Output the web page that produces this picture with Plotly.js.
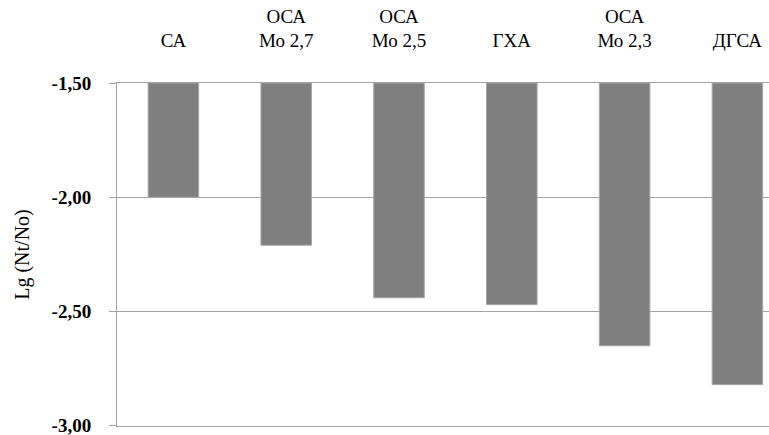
<!DOCTYPE html>
<html>
<head>
<meta charset="utf-8">
<script src="https://cdn.plot.ly/plotly-3.0.1.min.js"></script>
<style>
  html, body { margin: 0; padding: 0; background: #fff; overflow: hidden; }
  #chart { width: 769px; height: 435px; }
</style>
</head>
<body>
<div id="chart"></div>
<script>
const categories = ['СА', 'ОСА<br>Мо 2,7', 'ОСА<br>Мо 2,5', 'ГХА', 'ОСА<br>Мо 2,3', 'ДГСА'];
const values = [-2.00, -2.21, -2.44, -2.47, -2.65, -2.82];
const baseLine = -1.50;
const yTicks = [-3.00, -2.50, -2.00, -1.50];
const yTickText = yTicks.map(v => v.toFixed(2).replace('.', ','));

const serif = 'Liberation Serif';
const gray = '#a3a3a3';

const trace = {
  type: 'bar',
  x: categories,
  y: values.map(v => v - baseLine),
  base: values.map(() => baseLine),
  marker: { color: '#7f7f7f', line: { color: '#a8a8a8', width: 1 } },
  hoverinfo: 'skip'
};

const layout = {
  width: 769,
  height: 435,
  margin: { l: 117, r: 0, t: 83, b: 9, pad: 0 },
  paper_bgcolor: '#ffffff',
  plot_bgcolor: '#ffffff',
  bargap: 0.552,
  showlegend: false,
  xaxis: {
    type: 'category',
    side: 'top',
    range: [-0.5, 5.28],
    showgrid: false,
    zeroline: false,
    showline: true,
    linecolor: gray,
    linewidth: 1,
    mirror: true,
    ticks: '',
    ticklabelstandoff: 27,
    tickfont: { family: serif, size: 19, color: '#000' }
  },
  yaxis: {
    range: [-3.001, -1.5],
    tickmode: 'array',
    tickvals: yTicks,
    ticktext: yTickText,
    ticks: 'outside',
    ticklen: 7,
    tickwidth: 1,
    tickcolor: gray,
    showline: true,
    linecolor: gray,
    linewidth: 1,
    showgrid: true,
    gridcolor: gray,
    gridwidth: 1,
    zeroline: false,
    ticklabelstandoff: 14,
    ticklabeloverflow: 'allow',
    tickfont: { family: serif, size: 19, color: '#000', weight: 'bold' },
    title: { text: 'Lg (Nt/No)', font: { family: serif, size: 20, color: '#000' }, standoff: 16 }
  }
};

Plotly.newPlot('chart', [trace], layout, { staticPlot: true, displayModeBar: false });
</script>
</body>
</html>
